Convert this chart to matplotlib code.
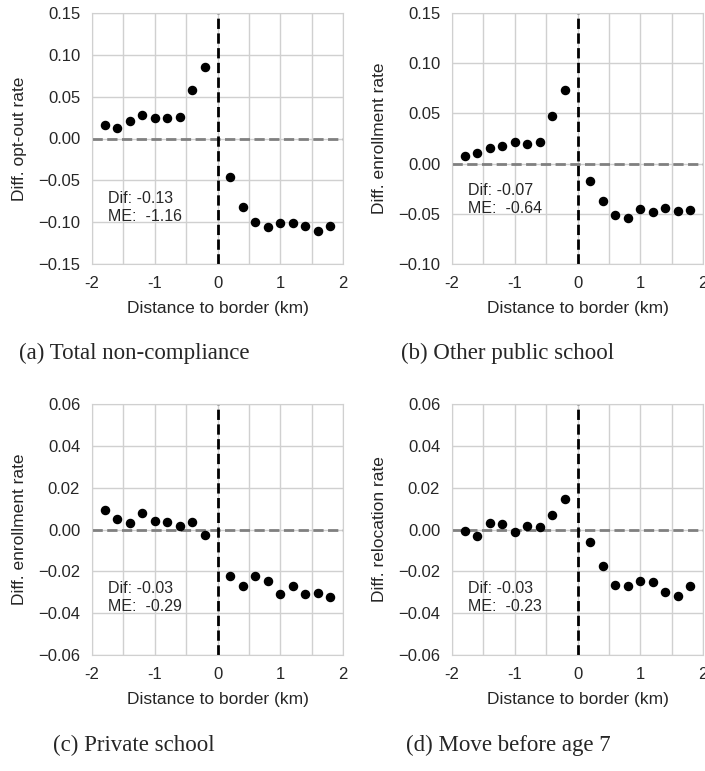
import matplotlib
matplotlib.use('Agg')
from matplotlib import pyplot as plt
from matplotlib.ticker import MultipleLocator
import seaborn as sns

sns.set_style('whitegrid')
plt.rcParams['font.family'] = ['Liberation Sans', 'DejaVu Sans']

x_left = [-1.8, -1.6, -1.4, -1.2, -1.0, -0.8, -0.6, -0.4, -0.2]
x_right = [0.2, 0.4, 0.6, 0.8, 1.0, 1.2, 1.4, 1.6, 1.8]
distance = x_left + x_right

opt_out = [0.016, 0.013, 0.021, 0.028, 0.025, 0.025, 0.026, 0.058, 0.086,
           -0.046, -0.082, -0.100, -0.106, -0.101, -0.101, -0.104, -0.110, -0.105]
other_public = [0.0073, 0.011, 0.0156, 0.018, 0.022, 0.0196, 0.022, 0.047, 0.073,
                -0.0176, -0.037, -0.051, -0.054, -0.0455, -0.0485, -0.044, -0.0475, -0.046]
private = [0.0092, 0.0049, 0.0032, 0.0077, 0.004, 0.0035, 0.0019, 0.0038, -0.0026,
           -0.0223, -0.027, -0.022, -0.0247, -0.031, -0.0268, -0.031, -0.0304, -0.0325]
relocation = [-0.0008, -0.0033, 0.0029, 0.0026, -0.0011, 0.0019, 0.0013, 0.0067, 0.0147,
              -0.0059, -0.0175, -0.0265, -0.0268, -0.0244, -0.0253, -0.030, -0.032, -0.027]

ylabels = ['Diff. opt-out rate', 'Diff. enrollment rate',
           'Diff. enrollment rate', 'Diff. relocation rate']
captions = ['(a) Total non-compliance', '(b) Other public school',
            '(c) Private school', '(d) Move before age 7']
dif_values = ['-0.13', '-0.07', '-0.03', '-0.03']
me_values = ['-1.16', '-0.64', '-0.29', '-0.23']
ylims = [(-0.15, 0.15), (-0.10, 0.15), (-0.06, 0.06), (-0.06, 0.06)]
ysteps = [0.05, 0.05, 0.02, 0.02]
text_y = [0.225, 0.258, 0.228, 0.228]

W, H = 705, 771
fig = plt.figure(figsize=(W / 100, H / 100), dpi=100)

boxes = [(92, 13), (452, 13), (92, 404), (452, 404)]
caption_pos = [(134, 353), (508, 353), (134, 745), (508, 745)]
series = [opt_out, other_public, private, relocation]

for i in range(4):
    left, top = boxes[i]
    ax = fig.add_axes([left / W, 1 - (top + 251) / H, 251 / W, 251 / H])
    ax.scatter(distance, series[i], color='black', s=34, zorder=3)
    ax.axhline(0, color='gray', linestyle='--', linewidth=2, zorder=2)
    ax.axvline(0, color='black', linestyle='--', linewidth=2, zorder=2)
    ax.set_xlim(-2, 2)
    ax.set_ylim(*ylims[i])
    ax.set_xticks([-2, -1, 0, 1, 2])
    ax.set_xticklabels(['-2', '-1', '0', '1', '2'])
    ax.xaxis.set_minor_locator(MultipleLocator(0.5))
    ax.yaxis.set_major_locator(MultipleLocator(ysteps[i]))
    ax.grid(True, which='both', axis='x', color='#d0d0d0', linewidth=1)
    ax.grid(True, which='major', axis='y', color='#d0d0d0', linewidth=1)
    ax.tick_params(labelsize=12, pad=5, colors='#262626')
    for s in ax.spines.values():
        s.set_color('#d0d0d0')
    ax.set_xlabel('Distance to border (km)', fontsize=12.5, color='#262626', labelpad=7)
    ax.set_ylabel(ylabels[i], fontsize=12.5, color='#262626', labelpad=8)
    ax.text(0.065, text_y[i], f'Dif: {dif_values[i]}\nME:  {me_values[i]}',
            transform=ax.transAxes, fontsize=11.5, va='center', ha='left',
            color='#262626', linespacing=1.25)
    cx, cy = caption_pos[i]
    fig.text(cx / W, 1 - cy / H, captions[i], family='Liberation Serif',
             fontsize=16.5, ha='center', va='center')

plt.savefig('out.png', dpi=100)
plt.close()
